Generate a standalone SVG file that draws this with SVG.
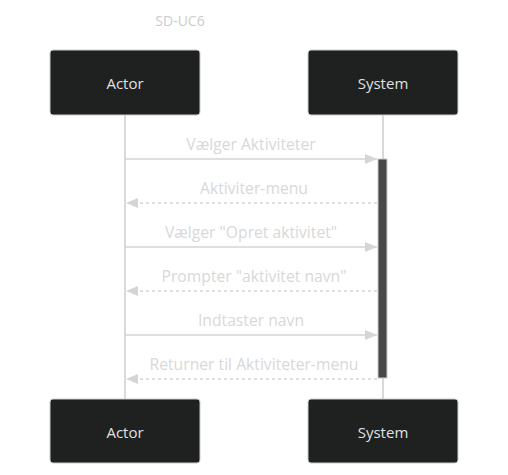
<svg xmlns="http://www.w3.org/2000/svg" width="508" height="475" viewBox="0 0 508 475">
<style>
.box{fill:#1f2020;stroke:#cccccc;stroke-width:1}
.bt{fill:#e0e0e0;font-family:"Open Sans","Liberation Sans",sans-serif;font-size:15px;text-anchor:middle;dominant-baseline:central}
.life{stroke:#cccccc;stroke-width:1.5}
.msg{stroke:#d5d5d5;stroke-width:1.5;fill:none}
.dash{stroke-dasharray:3,3}
.mt{fill:#d8d8d8;font-family:"Open Sans","Liberation Sans",sans-serif;font-size:15.7px;text-anchor:middle;dominant-baseline:central}
.title{fill:#cccccc;font-family:"Open Sans","Liberation Sans",sans-serif;font-size:14px;text-anchor:middle;dominant-baseline:central}
</style>
<defs>
<marker id="ah" viewBox="0 0 12 10" refX="12" refY="5" markerWidth="12" markerHeight="10" markerUnits="userSpaceOnUse" orient="auto">
<path d="M0,0 L12,5 L0,10 z" fill="#d5d5d5"/>
</marker>
</defs>
<rect width="508" height="475" fill="#ffffff"/>
<text x="180" y="20" class="title">SD-UC6</text>
<g id="lifelines">
<line class="life" x1="125" y1="115" x2="125" y2="399"/>
<line class="life" x1="383" y1="115" x2="383" y2="399"/>
</g>
<g id="activation">
<rect x="378" y="159" width="9" height="219" fill="#474949" stroke="#cccccc" stroke-width="1"/>
</g>
<g id="actor-top"><rect class="box" x="50" y="50" width="150" height="65" rx="3"/><text class="bt" x="125" y="83">Actor</text></g>
<g id="system-top"><rect class="box" x="308" y="50" width="150" height="65" rx="3"/><text class="bt" x="383" y="83">System</text></g>
<g id="actor-bottom"><rect class="box" x="50" y="399" width="150" height="64" rx="3"/><text class="bt" x="125" y="432">Actor</text></g>
<g id="system-bottom"><rect class="box" x="308" y="399" width="150" height="64" rx="3"/><text class="bt" x="383" y="432">System</text></g>
<g id="connectors">
<line class="msg" x1="125" y1="159" x2="377" y2="159" marker-end="url(#ah)"/>
<line class="msg dash" x1="377" y1="203" x2="126" y2="203" marker-end="url(#ah)"/>
<line class="msg" x1="125" y1="247" x2="377" y2="247" marker-end="url(#ah)"/>
<line class="msg dash" x1="377" y1="291" x2="126" y2="291" marker-end="url(#ah)"/>
<line class="msg" x1="125" y1="335" x2="377" y2="335" marker-end="url(#ah)"/>
<line class="msg dash" x1="377" y1="379" x2="126" y2="379" marker-end="url(#ah)"/>
</g>
<g id="labels">
<text class="mt" x="251" y="144">Vælger Aktiviteter</text>
<text class="mt" x="254" y="188">Aktiviter-menu</text>
<text class="mt" x="251" y="232">Vælger "Opret aktivitet"</text>
<text class="mt" x="254" y="276">Prompter "aktivitet navn"</text>
<text class="mt" x="251" y="320">Indtaster navn</text>
<text class="mt" x="254" y="364">Returner til Aktiviteter-menu</text>
</g>
</svg>
